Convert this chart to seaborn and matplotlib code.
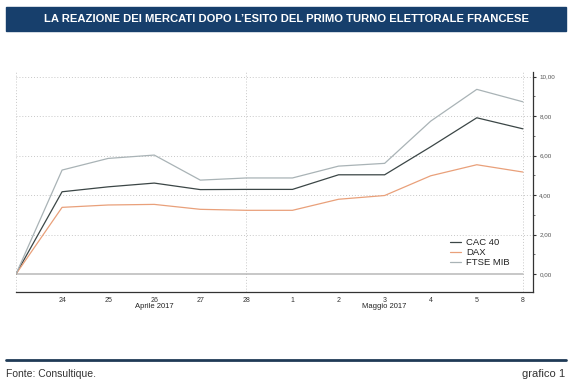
import seaborn as sns
import matplotlib.pyplot as plt
import pandas as pd
from matplotlib.patches import Rectangle
from matplotlib.lines import Line2D
from matplotlib.ticker import MultipleLocator, FuncFormatter

days = ["21", "24", "25", "26", "27", "28", "1", "2", "3", "4", "5", "8"]
cac40 = [0.0, 4.17, 4.42, 4.61, 4.28, 4.29, 4.29, 5.03, 5.03, 6.45, 7.92, 7.36]
dax = [0.0, 3.38, 3.50, 3.53, 3.28, 3.23, 3.23, 3.79, 3.98, 4.98, 5.54, 5.17]
ftse = [0.0, 5.27, 5.86, 6.03, 4.76, 4.87, 4.87, 5.47, 5.61, 7.75, 9.36, 8.73]
series = ["CAC 40", "DAX", "FTSE MIB"]
colors = ["#3b4646", "#e9a07a", "#a9b3b6"]

rows = []
for name, vals in zip(series, [cac40, dax, ftse]):
    for i, v in enumerate(vals):
        rows.append({"pos": i, "value": v, "serie": name})
df = pd.DataFrame(rows)

sns.set_style("white")
plt.rcParams['font.family'] = ['Liberation Sans', 'DejaVu Sans']

fig = plt.figure(figsize=(5.72, 3.9), dpi=100)
ax = fig.add_axes([16 / 572, 1 - 292 / 390, (533 - 16) / 572, (292 - 72) / 390])

# griglia
for yv in [2, 4, 6, 8, 10]:
    ax.axhline(yv, color="#c8c8c8", lw=0.7, ls=(0, (1, 2)), zorder=0)
for xv in [0, 5, 11]:
    ax.axvline(xv, color="#c8c8c8", lw=0.7, ls=(0, (1, 2)), zorder=0)
ax.plot([0, 11], [0, 0], color="#b8b8b8", lw=1.1, zorder=1)

sns.lineplot(data=df, x="pos", y="value", hue="serie", palette=colors,
             linewidth=0.9, ax=ax, legend=True)

ax.set_xlim(0, 11.22)
ax.set_ylim(-0.91, 10.24)
ax.set_xticks(range(1, len(days)))
ax.set_xticklabels(days[1:], fontsize=5, color="#333333")
ax.tick_params(axis="x", length=2.5, width=0.6, pad=1, color="#333333")

ax.yaxis.tick_right()
ax.set_yticks([0, 2, 4, 6, 8, 10])
ax.yaxis.set_minor_locator(MultipleLocator(1))
ax.yaxis.set_major_formatter(FuncFormatter(lambda v, p: f"{v:.2f}".replace(".", ",")))
ax.tick_params(axis="y", which="major", length=2.5, width=0.8, labelsize=4.5,
               labelcolor="#555555", pad=2, color="#333333", right=True, left=False)
ax.tick_params(axis="y", which="minor", length=1.5, width=0.6, color="#555555",
               right=True, left=False)
ax.set_xlabel("")
ax.set_ylabel("")

for s in ["top", "left"]:
    ax.spines[s].set_visible(False)
for s in ["bottom", "right"]:
    ax.spines[s].set_color("#333333")
    ax.spines[s].set_linewidth(0.9)

ax.text(3, -0.068, "Aprile 2017", transform=ax.get_xaxis_transform(),
        ha="center", va="center", fontsize=5.5, color="#222222")
ax.text(8, -0.068, "Maggio 2017", transform=ax.get_xaxis_transform(),
        ha="center", va="center", fontsize=5.5, color="#222222")

leg = ax.legend(loc="upper left", bbox_to_anchor=(0.83, 0.265), frameon=False,
                fontsize=6.8, handlelength=1.2, handletextpad=0.5,
                labelspacing=0.1, borderpad=0)
for t in leg.get_texts():
    t.set_color("#222222")

# banner del titolo
fig.patches.append(Rectangle((6 / 572, 1 - 31 / 390), 560 / 572, 24 / 390,
                             transform=fig.transFigure, color="#173f6c", zorder=0))
fig.text(0.5, 1 - 19 / 390,
         "LA REAZIONE DEI MERCATI DOPO L\u2019ESITO DEL PRIMO TURNO ELETTORALE FRANCESE",
         ha="center", va="center", color="white", fontsize=8.1, fontweight="bold",
         family=["Liberation Sans", "DejaVu Sans"])

# piè di pagina
fig.add_artist(Line2D([6 / 572, 566 / 572], [1 - 360 / 390] * 2,
                      transform=fig.transFigure, color="#1f3a56", lw=2))
fig.text(6 / 572, 1 - 374 / 390, "Fonte: Consultique.", ha="left", va="center",
         fontsize=7.5, color="#333333", family=["Liberation Sans", "DejaVu Sans"])
fig.text(565 / 572, 1 - 374 / 390, "grafico 1", ha="right", va="center",
         fontsize=8, color="#333333", family=["Liberation Sans", "DejaVu Sans"])

fig.savefig("out.png", dpi=100)
